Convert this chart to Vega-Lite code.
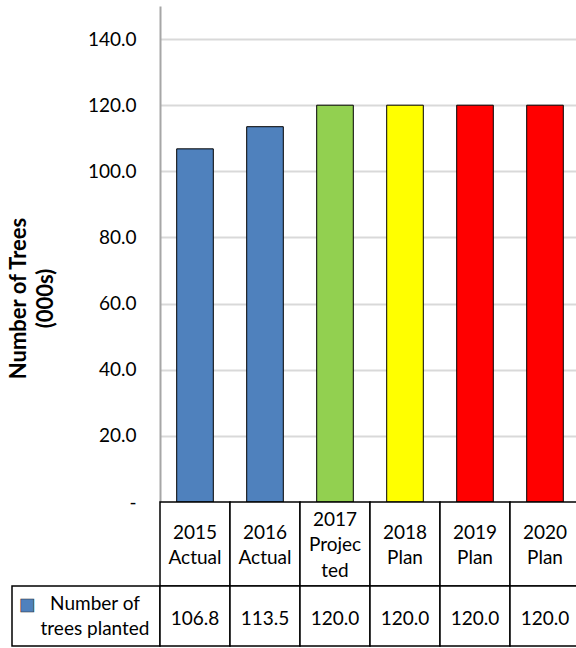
{
  "$schema": "https://vega.github.io/schema/vega-lite/v6.json",
  "padding": {"left": 7, "top": 6, "right": 0, "bottom": 0},
  "datasets": {
    "trees": [
      {"period": "2015 Actual", "heading": "2015\nActual", "trees": 106.8},
      {"period": "2016 Actual", "heading": "2016\nActual", "trees": 113.5},
      {"period": "2017 Projected", "heading": "2017\nProjec\nted", "trees": 120.0},
      {"period": "2018 Plan", "heading": "2018\nPlan", "trees": 120.0},
      {"period": "2019 Plan", "heading": "2019\nPlan", "trees": 120.0},
      {"period": "2020 Plan", "heading": "2020\nPlan", "trees": 120.0}
    ],
    "series": [
      {"series": "Number of\ntrees planted", "key": "■"}
    ]
  },
  "columns": 2,
  "align": "each",
  "bounds": "flush",
  "spacing": 0,
  "concat": [
    {
      "width": 148,
      "height": 496,
      "data": {"values": []},
      "mark": "point"
    },
    {
      "width": 420,
      "height": 496,
      "data": {"name": "trees"},
      "mark": {"type": "bar", "stroke": "#000000", "strokeWidth": 1},
      "encoding": {
        "x": {
          "field": "period",
          "type": "nominal",
          "sort": null,
          "scale": {"paddingInner": 0.477, "paddingOuter": 0.2385},
          "axis": null
        },
        "y": {
          "field": "trees",
          "type": "quantitative",
          "scale": {"domain": [0, 150], "nice": false},
          "axis": {
            "values": [0, 20, 40, 60, 80, 100, 120, 140],
            "labelExpr": "datum.value === 0 ? '-\u00a0\u00a0\u00a0' : format(datum.value, '.1f')",
            "labelFont": "Lato",
            "labelFontSize": 19,
            "labelColor": "#000000",
            "labelPadding": 24,
            "ticks": false,
            "domainColor": "#A6A6A6",
            "domainWidth": 2,
            "gridColor": "#D9D9D9",
            "gridWidth": 2,
            "gridOpacity": {"condition": {"test": "datum.value === 0", "value": 0}, "value": 1},
            "title": ["Number of Trees", "(000s)"],
            "titleFont": "Lato",
            "titleFontSize": 22,
            "titleFontWeight": "bold",
            "titleColor": "#000000",
            "titleAngle": -90,
            "titleAlign": "center",
            "titleBaseline": "middle",
            "titleLineHeight": 27,
            "titleX": -142,
            "titleY": 292
          }
        },
        "color": {
          "field": "period",
          "type": "nominal",
          "sort": null,
          "scale": {
            "domain": ["2015 Actual", "2016 Actual", "2017 Projected", "2018 Plan", "2019 Plan", "2020 Plan"],
            "range": ["#4F81BD", "#4F81BD", "#92D050", "#FFFF00", "#FF0000", "#FF0000"]
          },
          "legend": null
        }
      }
    },
    {
      "width": 148,
      "height": 84,
      "data": {"values": []},
      "mark": "point"
    },
    {
      "width": 420,
      "height": 84,
      "data": {"name": "trees"},
      "encoding": {
        "x": {
          "field": "period",
          "type": "nominal",
          "sort": null,
          "scale": {"paddingInner": 0, "paddingOuter": 0},
          "axis": null
        }
      },
      "layer": [
        {"mark": {"type": "rect", "fill": "#FFFFFF", "stroke": "#000000", "strokeWidth": 1.5}},
        {
          "transform": [{"filter": "datum.period !== '2017 Projected'"}],
          "mark": {"type": "text", "font": "Lato", "fontSize": 19, "color": "#000000", "lineBreak": "\n", "lineHeight": 25.5, "baseline": "middle", "dy": -11.5},
          "encoding": {"text": {"field": "heading"}}
        },
        {
          "transform": [{"filter": "datum.period === '2017 Projected'"}],
          "mark": {"type": "text", "font": "Lato", "fontSize": 19, "color": "#000000", "lineBreak": "\n", "lineHeight": 25.5, "baseline": "middle", "dy": -24.5},
          "encoding": {"text": {"field": "heading"}}
        }
      ]
    },
    {
      "width": 148,
      "height": 60,
      "data": {"name": "series"},
      "view": {"stroke": "#000000", "strokeWidth": 1.5},
      "layer": [
        {
          "mark": {"type": "text", "font": "DejaVu Sans", "fontSize": 17, "fill": "#4F81BD", "stroke": "#2B2B2B", "strokeWidth": 0.6, "baseline": "middle", "dx": -59, "dy": -11},
          "encoding": {"text": {"field": "key"}}
        },
        {
          "mark": {"type": "text", "font": "Lato", "fontSize": 19, "color": "#000000", "lineBreak": "\n", "lineHeight": 25, "baseline": "middle", "dx": 9, "dy": -12},
          "encoding": {"text": {"field": "series"}}
        }
      ]
    },
    {
      "width": 420,
      "height": 60,
      "data": {"name": "trees"},
      "encoding": {
        "x": {
          "field": "period",
          "type": "nominal",
          "sort": null,
          "scale": {"paddingInner": 0, "paddingOuter": 0},
          "axis": null
        }
      },
      "layer": [
        {"mark": {"type": "rect", "fill": "#FFFFFF", "stroke": "#000000", "strokeWidth": 1.5}},
        {
          "mark": {"type": "text", "font": "Lato", "fontSize": 19, "color": "#000000", "baseline": "middle", "dy": 3},
          "encoding": {"text": {"field": "trees", "type": "quantitative", "format": ".1f"}}
        }
      ]
    }
  ],
  "config": {
    "view": {"stroke": null},
    "font": "Lato"
  }
}
